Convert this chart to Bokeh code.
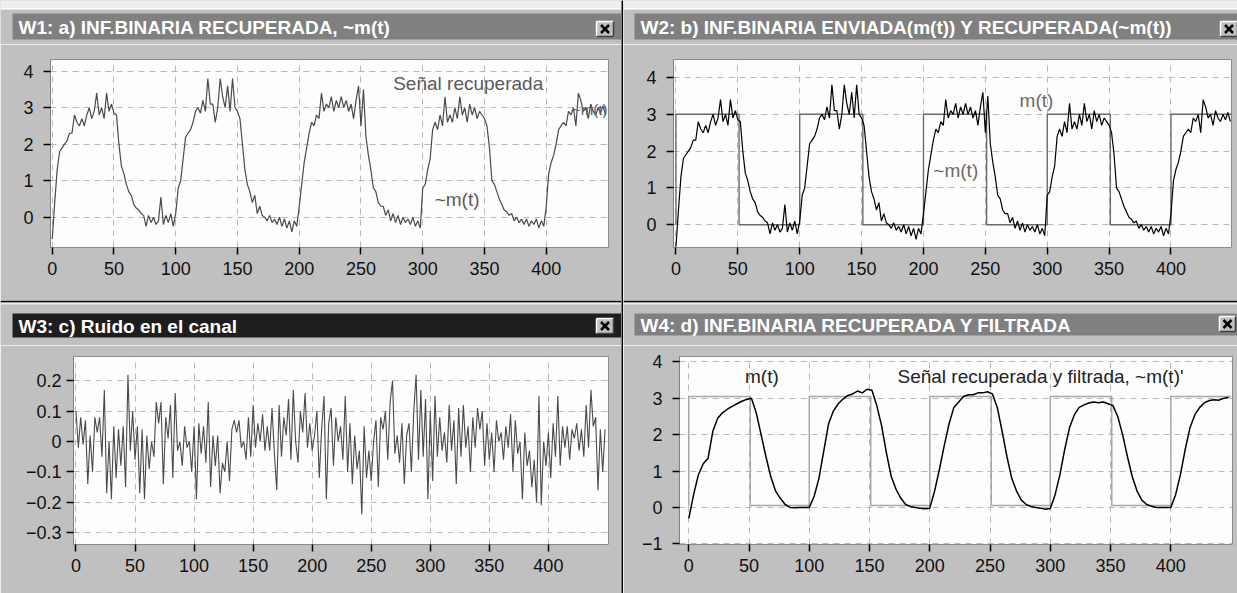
from bokeh.plotting import figure
from bokeh.layouts import row, column
from bokeh.models import Range1d, FixedTicker
from bokeh.core.properties import value
from bokeh.embed import file_html
from bokeh.resources import INLINE

# ---------------- data ----------------
t_rec = list(range(0, 450, 2))
rec = [
    -0.6, 0.4, 1.3, 1.8, 1.9, 2.0, 2.1, 2.3, 2.3, 2.8, 2.6, 2.5, 2.7, 2.5, 2.8, 3.0, 2.7, 2.9, 3.4, 2.8, 3.0, 2.7, 3.4, 2.9, 3.1,
    2.85, 2.8, 2.0, 1.4, 1.2, 0.9, 0.7, 0.6, 0.35, 0.25, 0.2, 0.1, 0.05, -0.25, 0.05, -0.15, 0.0, -0.2, -0.1, 0.55, -0.2, 0.05, -0.15, 0.1, -0.25,
    0.1, 0.8, 1.0, 1.6, 2.2, 2.3, 2.4, 2.6, 2.9, 3.0, 2.85, 3.2, 2.9, 3.8, 3.1, 3.1, 2.6, 3.0, 3.8, 3.3, 3.0, 3.6, 2.9, 3.8, 3.0,
    2.9, 2.7, 2.0, 1.3, 0.9, 0.7, 0.4, 0.6, 0.1, 0.3, 0.05, 0.0, -0.1, 0.05, -0.15, -0.05, -0.2, 0.0, -0.25, -0.05, -0.3, -0.1, -0.4, -0.1, -0.25,
    0.3, 0.9, 1.5, 1.9, 2.3, 2.6, 2.5, 2.8, 2.7, 3.4, 2.9, 3.1, 3.0, 3.3, 2.9, 3.2, 3.0, 3.3, 3.0, 3.2, 2.9, 3.1, 2.7, 3.2, 3.6,
    2.5, 3.5, 2.2, 1.7, 1.3, 0.8, 0.7, 0.4, 0.3, 0.3, 0.05, 0.2, -0.1, 0.1, -0.15, 0.05, -0.2, 0.0, -0.15, -0.05, -0.2, 0.0, -0.25, -0.1, -0.3,
    0.8, 0.9, 1.3, 1.6, 2.4, 2.6, 2.4, 2.8, 2.5, 3.3, 2.6, 2.8, 2.6, 3.0, 2.7, 3.3, 2.8, 3.0, 2.6, 3.1, 2.8, 3.0, 2.7, 2.9, 2.8,
    2.7, 2.5, 1.9, 1.0, 0.9, 0.7, 0.5, 0.35, 0.2, 0.15, 0.05, 0.1, -0.1, 0.0, -0.15, -0.05, -0.2, -0.05, -0.25, -0.1, -0.2, -0.05, -0.3, -0.1, -0.25,
    0.3, 1.2, 1.5, 1.7, 2.0, 2.4, 2.5, 2.6, 2.5, 2.9, 2.8, 3.0, 2.5, 3.4, 3.2, 2.9, 3.0, 2.7, 3.1, 2.9, 2.8, 3.0, 2.85, 3.05, 2.8,
]

t_noise = list(range(0, 450, 2))
noise = [
    0.1, -0.02, 0.08, -0.01, 0.07, -0.14, 0.02, -0.1, 0.08, 0.03, 0.08, -0.05, 0.17, -0.17, 0.0, -0.19, 0.05, -0.12, 0.04, -0.08, 0.05, -0.15, 0.22, -0.03, 0.1,
    -0.06, 0.05, -0.17, 0.04, -0.19, 0.02, -0.09, 0.0, -0.05, 0.13, 0.06, 0.13, -0.14, 0.08, 0.01, 0.12, -0.12, 0.16, -0.03, 0.0, -0.08, 0.05, -0.02, 0.0, -0.1,
    0.05, -0.19, 0.06, -0.04, 0.05, -0.07, 0.13, -0.15, 0.02, -0.08, 0.02, -0.17, -0.07, -0.1, 0.0, -0.13, 0.04, 0.07, 0.03, 0.07, -0.02, 0.0, -0.06, 0.08, -0.05,
    0.12, -0.02, 0.06, 0.0, 0.09, -0.03, 0.05, -0.03, 0.11, -0.04, -0.16, 0.12, -0.05, 0.08, 0.02, 0.14, -0.06, 0.17, 0.0, -0.07, 0.1, 0.03, 0.16, -0.02, 0.06,
    -0.03, 0.02, 0.1, -0.12, 0.04, 0.15, -0.19, 0.06, 0.11, -0.08, 0.08, 0.0, 0.05, -0.06, 0.15, -0.1, 0.06, -0.14, 0.02, -0.09, -0.03, -0.24, 0.05, -0.12, -0.03,
    -0.13, 0.0, 0.07, -0.15, 0.08, 0.04, 0.1, -0.06, 0.13, 0.2, -0.04, 0.02, -0.07, 0.06, -0.14, 0.02, 0.06, -0.1, 0.1, 0.22, -0.06, 0.17, -0.05, 0.14, -0.19,
    0.1, -0.13, 0.15, -0.05, 0.08, -0.03, 0.03, -0.07, 0.12, -0.03, 0.07, -0.14, 0.11, -0.05, 0.12, -0.02, 0.05, -0.1, 0.08, -0.02, 0.11, 0.04, 0.1, -0.08, 0.06,
    -0.06, 0.03, -0.1, 0.07, 0.0, 0.03, -0.06, 0.05, -0.02, 0.09, -0.1, 0.07, -0.04, 0.0, -0.19, 0.03, -0.08, -0.03, -0.15, -0.06, -0.2, 0.15, -0.21, 0.0, -0.08,
    0.03, -0.12, 0.06, -0.05, 0.15, -0.08, 0.05, -0.02, 0.05, -0.06, 0.04, 0.01, 0.06, -0.03, 0.04, -0.05, 0.12, -0.02, 0.17, 0.05, 0.08, -0.16, 0.04, -0.1, 0.04,
]

t_filt = list(range(0, 450, 4))
filt = [
    -0.3, 0.35, 0.9, 1.2, 1.35, 2.1, 2.45, 2.6, 2.7, 2.78, 2.85, 2.92, 2.97, 3.0,
    2.6, 2.0, 1.4, 0.85, 0.45, 0.25, 0.08, 0.0, -0.01, 0.0, 0.0, 0.0,
    0.3, 0.8, 1.55, 2.3, 2.65, 2.85, 2.98, 3.08, 3.12, 3.2, 3.15, 3.25, 3.22,
    2.8, 2.25, 1.5, 0.85, 0.5, 0.25, 0.08, 0.02, 0.0, -0.02, -0.04, -0.02,
    0.45, 1.05, 1.7, 2.3, 2.75, 2.9, 3.05, 3.1, 3.1, 3.15, 3.15, 3.18, 3.12,
    2.75, 2.1, 1.4, 0.8, 0.45, 0.2, 0.08, 0.02, 0.0, -0.02, -0.05, -0.03,
    0.35, 0.9, 1.6, 2.2, 2.55, 2.75, 2.82, 2.87, 2.9, 2.88, 2.9, 2.85, 2.8,
    2.5, 2.0, 1.4, 0.85, 0.45, 0.2, 0.08, 0.03, 0.0, 0.0, 0.0, 0.0,
    0.35, 0.9, 1.6, 2.2, 2.55, 2.75, 2.88, 2.94, 2.96, 2.95, 3.0, 3.02,
]

bits = [1, 0, 1, 0, 1, 0, 1, 0, 1]
bit_edges = [0, 51, 100, 151, 200, 251, 300, 351, 400, 450]
m_levels_b = (0.0, 3.0)     # panel b
m_levels_d = (0.05, 3.05)   # panel d

x_ticks = [0, 50, 100, 150, 200, 250, 300, 350, 400]
y_ticks_sig = [0, 1, 2, 3, 4]
y_ticks_d = [-1, 0, 1, 2, 3, 4]
y_ticks_noise = [-0.3, -0.2, -0.1, 0, 0.1, 0.2]

titles = [
    "W1: a) INF.BINARIA RECUPERADA, ~m(t)",
    "W2: b) INF.BINARIA ENVIADA(m(t)) Y RECUPERADA(~m(t))",
    "W3: c) Ruido en el canal",
    "W4: d) INF.BINARIA RECUPERADA Y FILTRADA",
]

FONT = "Liberation Sans"
BODY = "#c0c0c0"
BAR = "#808080"
BAR_ACTIVE = "#1e1e1e"


def step_xy(levels):
    lo, hi = levels
    xs, ys = [bit_edges[0]], [lo]
    for i, b in enumerate(bits):
        lvl = hi if b else lo
        xs += [bit_edges[i], bit_edges[i + 1]]
        ys += [lvl, lvl]
    return xs, ys


def chrome(width, height, title, bar_top, bar_bot, bar_left, bar_color, btn, sep_top=False):
    p = figure(width=width, height=height, x_range=Range1d(0, width), y_range=Range1d(height, 0),
               output_backend="svg", toolbar_location=None, min_border=0,
               x_axis_location=None, y_axis_location=None, frame_align=False)
    p.grid.visible = False
    p.outline_line_color = None
    p.background_fill_color = BODY
    p.border_fill_color = BODY
    if sep_top:
        p.quad(left=[0], right=[width], top=[0], bottom=[2], fill_color="#000000", line_color=None)
        p.quad(left=[0], right=[width], top=[2], bottom=[4], fill_color="#e8e8e8", line_color=None)
    else:
        p.quad(left=[0], right=[width], top=[0], bottom=[7], fill_color="#efefef", line_color=None)
        p.quad(left=[0], right=[width], top=[7], bottom=[9], fill_color="#ffffff", line_color=None)
    p.quad(left=[bar_left], right=[width], top=[bar_top], bottom=[bar_bot], fill_color=bar_color, line_color=None)
    p.text(x=[bar_left + 6], y=[(bar_top + bar_bot) / 2 + 1], text=[title], text_font=value(FONT),
           text_font_style="bold", text_font_size="19px", text_color="white",
           text_baseline="middle", text_align="left")
    bx0, bx1, by0, by1 = btn
    p.quad(left=[bx0], right=[bx1], top=[by0], bottom=[by1], fill_color=BODY, line_color=None)
    p.segment(x0=[bx0, bx0], y0=[by0, by0], x1=[bx1, bx0], y1=[by0, by1], line_color="white", line_width=1.5)
    p.segment(x0=[bx0, bx1], y0=[by1, by0], x1=[bx1, bx1], y1=[by1, by1], line_color="#404040", line_width=1.5)
    cx, cy = (bx0 + bx1) / 2, (by0 + by1) / 2
    p.segment(x0=[cx - 4, cx - 4], y0=[cy - 4, cy + 4], x1=[cx + 4, cx + 4], y1=[cy + 4, cy - 4],
              line_color="black", line_width=2.5)
    return p


def panel(width, height, xr, yr, mb, yticks, ystand):
    p = figure(width=width, height=height, x_range=Range1d(*xr), y_range=Range1d(*yr),
               output_backend="svg", toolbar_location=None, frame_align=False,
               min_border_left=mb[0], min_border_right=mb[1], min_border_top=mb[2], min_border_bottom=mb[3])
    p.background_fill_color = "#fdfdfd"
    p.border_fill_color = BODY
    p.outline_line_color = "#8c8c8c"
    p.xaxis.ticker = FixedTicker(ticks=x_ticks)
    p.yaxis.ticker = FixedTicker(ticks=yticks)
    for ax in (p.xaxis[0], p.yaxis[0]):
        ax.major_label_text_font = FONT
        ax.major_label_text_font_size = "18px"
        ax.major_label_text_color = "#111111"
        ax.major_tick_in = 0
        ax.major_tick_out = 7
        ax.major_tick_line_color = "black"
        ax.major_tick_line_width = 1.5
        ax.minor_tick_line_color = None
    p.xaxis.axis_line_color = None
    p.yaxis.axis_line_color = "#808080"
    p.xaxis.major_label_standoff = 7
    p.yaxis.major_label_standoff = ystand
    p.grid.grid_line_color = "#b8b8b8"
    p.grid.grid_line_dash = "6 5"
    p.grid.grid_line_width = 1
    return p


def label(p, x, y, txt, color, align="center", size="19px"):
    p.text(x=[x], y=[y], text=[txt], text_font=value(FONT), text_font_size=size,
           text_color=color, text_align=align, text_baseline="middle")


LW, RW = 621, 614

# ---- W1 ----
tb1 = chrome(LW, 44, titles[0], 13, 39, 12, BAR, (596, 613, 21, 36))
p1 = panel(LW, 256, (-1.4, 450.4), (-0.83, 4.32), (50, 13, 15, 53), y_ticks_sig, 10)
p1.line(t_rec, rec, line_color="#4a4a4a", line_width=1.2)
label(p1, 336.8, 3.65, "Señal recuperada", "#5a5a5a")
label(p1, 327.8, 0.48, "~m(t)", "#5a5a5a")
label(p1, 449.5, 2.95, "~m(t)", "#5a5a5a", align="right", size="15px")

# ---- W3 ----
tb3 = chrome(LW, 45, titles[2], 13, 37, 12, BAR_ACTIVE, (596, 613, 18, 33), sep_top=True)
p3 = panel(LW, 248, (-2.1, 450.9), (-0.339, 0.28), (73, 13, 11, 49), y_ticks_noise, 5)
p3.yaxis.major_label_overrides = {0: "0"}
p3.line(t_noise, noise, line_color="#4a4a4a", line_width=1.1)

# ---- W2 ----
tb2 = chrome(RW, 44, titles[1], 13, 39, 11, BAR, (597, 614, 21, 36))
p2 = panel(RW, 256, (-2.0, 448.9), (-0.62, 4.49), (50, 6, 15, 53), y_ticks_sig, 10)
mx, my = step_xy(m_levels_b)
p2.line(mx, my, line_color="#6a6a6a", line_width=1.4)
p2.line(t_rec, rec, line_color="#000000", line_width=1.2)
label(p2, 291.3, 3.38, "m(t)", "#6a6a6a")
label(p2, 226.1, 1.47, "~m(t)", "#6a6a6a")

# ---- W4 ----
tb4 = chrome(RW, 45, titles[3], 13, 35, 11, BAR, (596, 612, 16, 31), sep_top=True)
p4 = panel(RW, 248, (-7.7, 451.2), (-1.02, 4.15), (56, 5, 11, 49), y_ticks_d, 10)
fx, fy = step_xy(m_levels_d)
p4.line(fx, fy, line_color="#a8a8a8", line_width=1.5)
p4.line(t_filt, filt, line_color="#000000", line_width=1.5)
label(p4, 60.7, 3.6, "m(t)", "#222222")
label(p4, 291.9, 3.6, "Señal recuperada y filtrada, ~m(t)'", "#222222")

# ---- separator ----
vsep = figure(width=2, height=593, output_backend="svg", toolbar_location=None, min_border=0,
              x_axis_location=None, y_axis_location=None, frame_align=False)
vsep.grid.visible = False
vsep.outline_line_color = None
vsep.background_fill_color = "#000000"
vsep.border_fill_color = "#000000"

left = column(tb1, p1, tb3, p3, spacing=0)
right = column(tb2, p2, tb4, p4, spacing=0)
root = row(left, vsep, right, spacing=0)

open("out.html", "w").write(file_html(root, INLINE))
